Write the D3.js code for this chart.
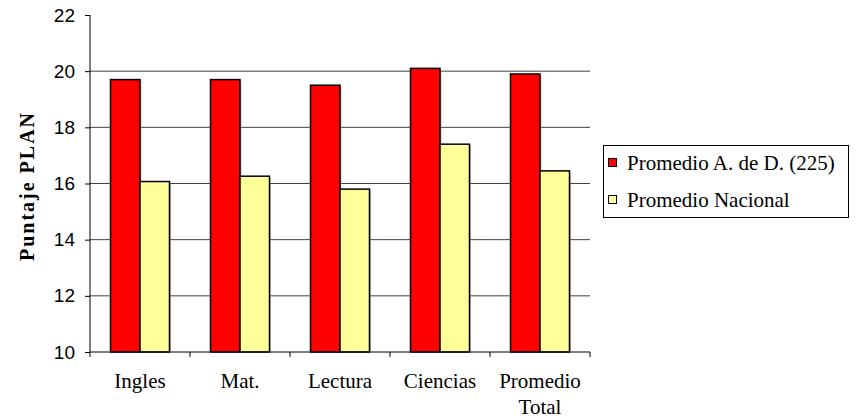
<!DOCTYPE html>
<html><head><meta charset="utf-8">
<script src="https://cdn.jsdelivr.net/npm/d3@7"></script>
<style>body{margin:0;background:#fff}</style>
</head><body>
<svg id="c" width="857" height="419"></svg>
<script>
const categories = [["Ingles"], ["Mat."], ["Lectura"], ["Ciencias"], ["Promedio", "Total"]];
const seriesNames = ["Promedio A. de D. (225)", "Promedio Nacional"];
const seriesColors = ["#FF0000", "#FFFF99"];
const valuesAD = [19.7, 19.7, 19.5, 20.1, 19.9];
const valuesNac = [16.07, 16.26, 15.8, 17.4, 16.45];
const yTicks = [10, 12, 14, 16, 18, 20, 22];
const yLabel = "Puntaje PLAN";

const SERIF = '"Liberation Serif", "Times New Roman", serif';
const SANS = '"Liberation Sans", Arial, sans-serif';
const svg = d3.select("#c");
const m = {l: 90, r: 590, t: 15, b: 352};
const keys = categories.map((c, i) => i);
const x = d3.scaleBand().domain(keys).range([m.l, m.r]).paddingInner(0).paddingOuter(0);
const y = d3.scaleLinear().domain([10, 22]).range([m.b, m.t]);
const sub = d3.scaleBand().domain([0, 1]).range([0, x.bandwidth()]).paddingInner(0).paddingOuter(0.695);

// gridlines
svg.append("g").selectAll("line").data(yTicks.filter(t => t > 10 && t < 22)).join("line")
  .attr("x1", m.l).attr("x2", m.r).attr("y1", d => y(d)).attr("y2", d => y(d))
  .attr("stroke", "#404040").attr("stroke-width", 1);

const series = [valuesAD, valuesNac];
series.forEach((vals, s) => {
  const g = svg.append("g");
  g.selectAll("rect.sh").data(vals).join("rect")
    .attr("x", (d, i) => x(i) + sub(s) + 1.5).attr("y", d => y(d) + 1.5)
    .attr("width", sub.bandwidth()).attr("height", d => m.b - y(d) - 1.5)
    .attr("fill", "#999").attr("opacity", 0.6);
  g.selectAll("rect.b").data(vals).join("rect")
    .attr("x", (d, i) => x(i) + sub(s)).attr("y", d => y(d))
    .attr("width", sub.bandwidth()).attr("height", d => m.b - y(d))
    .attr("fill", seriesColors[s]).attr("stroke", "#000").attr("stroke-width", 1.5);
});

// y axis
const ya = svg.append("g").attr("transform", `translate(${m.l},0)`)
  .call(d3.axisLeft(y).tickValues(yTicks).tickSize(5).tickPadding(10).tickFormat(d3.format("d")));
ya.select(".domain").attr("stroke", "#000").attr("d", `M-0,${m.t}V${m.b}`);
ya.selectAll(".tick line").attr("stroke", "#000");
ya.selectAll(".tick text").style("font-family", SANS).style("font-size", "19px").attr("fill", "#000");

// x axis
svg.append("line").attr("x1", m.l).attr("x2", m.r).attr("y1", m.b).attr("y2", m.b).attr("stroke", "#000");
const bounds = keys.map(k => x(k)).concat([m.r]);
svg.append("g").selectAll("line").data(bounds).join("line")
  .attr("x1", d => d).attr("x2", d => d).attr("y1", m.b).attr("y2", m.b + 5).attr("stroke", "#000");
svg.append("g").selectAll("text").data(categories).join("text")
  .style("font-family", SERIF).style("font-size", "21px")
  .attr("text-anchor", "middle")
  .each(function(d, i) {
    d3.select(this).selectAll("tspan").data(d).join("tspan")
      .attr("x", x(i) + x.bandwidth() / 2).attr("y", (t, j) => 388 + j * 26).text(t => t);
  });

// y label
svg.append("text").style("font-family", SERIF).style("font-size", "20px").style("font-weight", "bold")
  .style("letter-spacing", "2px")
  .attr("transform", `translate(34,${185 + 1}) rotate(-90)`)
  .attr("text-anchor", "middle").text(yLabel);

// legend
const lg = svg.append("g");
lg.append("rect").attr("x", 603.5).attr("y", 145.5).attr("width", 245).attr("height", 72)
  .attr("fill", "#fff").attr("stroke", "#000");
seriesNames.forEach((n, i) => {
  const cy = 163 + i * 37;
  lg.append("rect").attr("x", 608.5).attr("y", cy - 4.5).attr("width", 8).attr("height", 8)
    .attr("fill", seriesColors[i]).attr("stroke", "#000").attr("stroke-width", 1);
  lg.append("text").style("font-family", SERIF).style("font-size", "21px")
    .attr("x", 627).attr("y", cy + 7).text(n);
});
</script>
</body></html>
